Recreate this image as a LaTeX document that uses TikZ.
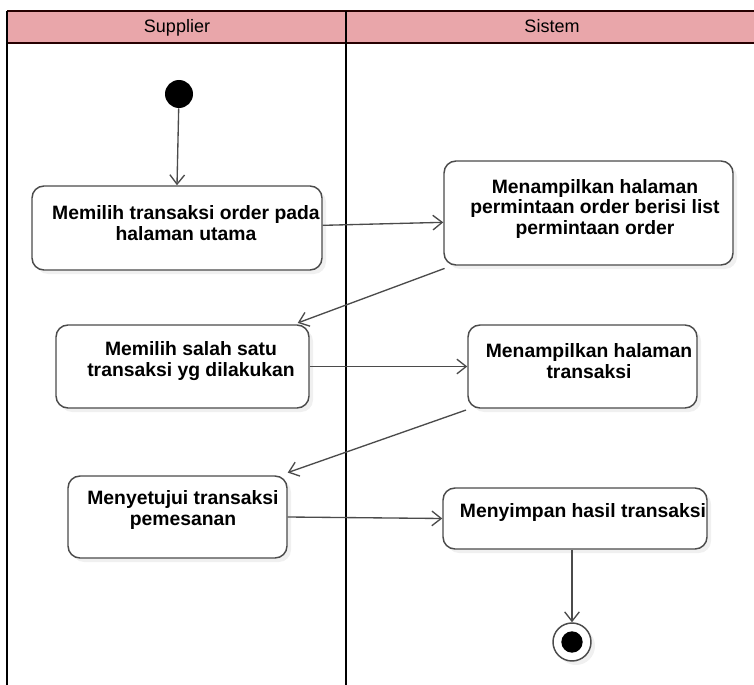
\documentclass[tikz,border=0pt]{standalone}
\usepackage{fontspec}
\setmainfont{Liberation Sans}
\usetikzlibrary{arrows.meta,shadows}

\definecolor{lanepink}{RGB}{233,166,170}
\definecolor{boxgray}{RGB}{75,75,75}

\begin{document}
\begin{tikzpicture}[x=0.75pt,y=-0.75pt,
    act/.style={rectangle,rounded corners=9pt,draw=boxgray,line width=1.1pt,fill=white,
      drop shadow={opacity=0.12,shadow xshift=3pt,shadow yshift=-3pt}},
    acttext/.style={align=center,font=\bfseries\fontsize{14.5}{15.75}\selectfont,inner sep=0pt},
    lanehead/.style={font=\fontsize{13.5}{15}\selectfont,text height=10pt,text depth=3pt},
    flow/.style={draw=boxgray,line width=1pt,-{Straight Barb[length=7pt,width=11pt]}}]

\useasboundingbox (0,0) rectangle (754,685);

% Swimlanes
\fill[lanepink] (7,11) rectangle (754,43);
\draw[line width=1.8pt,black!85!red] (754,11) -- (7,11);
\draw[line width=1.8pt,black!85!red] (7,43) -- (754,43);
\draw[line width=1.8pt] (7,11) -- (7,685);
\draw[line width=1.8pt] (346,11) -- (346,685);
\node[lanehead] (h1) at (177,28) {Supplier};
\node[lanehead] (h2) at (552,28) {Sistem};

% Start and end
\node[circle,fill=black,minimum size=21pt,inner sep=0pt] (start) at (179,94) {};
\node[circle,draw=boxgray,line width=1.1pt,fill=white,minimum size=28.5pt,inner sep=0pt,
  drop shadow={opacity=0.12,shadow xshift=3pt,shadow yshift=-3pt}] (fin) at (572,642) {};
\node[circle,fill=black,minimum size=16pt,inner sep=0pt] (fin2) at (fin) {};

% Activities
\node[act,minimum width=217.5pt,minimum height=63pt] (a1) at (177,228) {};
\node[act,minimum width=216.75pt,minimum height=78pt] (a2) at (588.5,213) {};
\node[act,minimum width=189.75pt,minimum height=62.25pt] (a3) at (182.5,366.5) {};
\node[act,minimum width=171.75pt,minimum height=62.25pt] (a4) at (582.5,366.5) {};
\node[act,minimum width=164.25pt,minimum height=61.5pt] (a5) at (177.5,517) {};
\node[act,minimum width=198pt,minimum height=45.75pt] (a6) at (575,518.5) {};

\node[acttext] (t1) at (186,223) {Memilih transaksi order pada\\halaman utama};
\node[acttext] (t2) at (595,209) {Menampilkan halaman\\permintaan order berisi list\\permintaan order};
\node[acttext] (t3) at (191,361) {Memilih salah satu\\transaksi yg dilakukan};
\node[acttext] (t4) at (589,361) {Menampilkan halaman\\transaksi};
\node[acttext] (t5) at (183,510) {Menyetujui transaksi\\pemesanan};
\node[acttext] (t6) at (583,512) {Menyimpan hasil transaksi};

% Flow
\draw[flow] (start) -- (a1.north);
\draw[flow] ([yshift=2pt]a1.east) -- ([yshift=-7pt]a2.west);
\draw[flow] ([xshift=1pt,yshift=-2pt]a2.south west) -- ([xshift=-9pt,yshift=1pt]a3.north east);
\draw[flow] (a3.east) -- (a4.west);
\draw[flow] ([xshift=-1pt,yshift=-1pt]a4.south west) -- ([yshift=2pt]a5.north east);
\draw[flow] (a5.east) -- (a6.west);
\draw[flow] (a6.south -| fin.north) -- (fin.north);

\end{tikzpicture}
\end{document}
